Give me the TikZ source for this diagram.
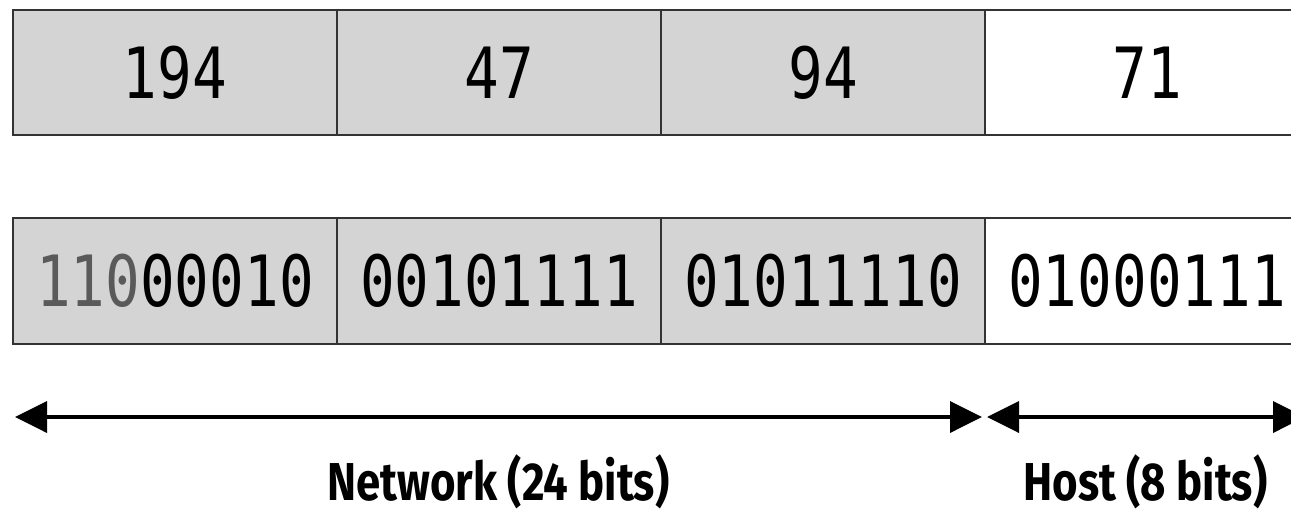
\documentclass[tikz,border=0pt]{standalone}
\usepackage{fontspec}
\usetikzlibrary{arrows.meta}
\newfontfamily\digitfont[FakeStretch=0.815]{DejaVu Sans Mono}
\newfontfamily\labelfont[FakeStretch=0.82]{Fira Sans}
\definecolor{netfill}{HTML}{D4D4D4}
\definecolor{cellline}{HTML}{333333}
\definecolor{dimdigit}{HTML}{5A5A5A}
\tikzset{
  cell/.style={draw=cellline, line width=1.7pt, minimum width=243pt, minimum height=94pt,
    inner sep=0pt, outer sep=0pt, font=\digitfont\fontsize{53}{60}\selectfont},
  netcell/.style={cell, fill=netfill},
  hostcell/.style={cell, fill=white},
  span/.style={line width=3.6pt, {Triangle[length=24pt,width=23pt]}-{Triangle[length=24pt,width=23pt]}},
  spanlabel/.style={anchor=base, inner sep=0pt, font=\labelfont\bfseries\fontsize{40}{48}\selectfont}
}
\begin{document}
\begin{tikzpicture}[x=0.75pt, y=-0.75pt]
  \useasboundingbox (0,0) rectangle (1291,515);
  % dotted-decimal row
  \node[netcell]  (d1) at (175,72.5)  {194};
  \node[netcell]  (d2) at (499,72.5)  {47};
  \node[netcell]  (d3) at (823,72.5)  {94};
  \node[hostcell] (d4) at (1147,72.5) {71};
  % binary row
  \node[netcell]  (b1) at (175,281) {\textcolor{dimdigit}{110}00010};
  \node[netcell]  (b2) at (499,281) {00101111};
  \node[netcell]  (b3) at (823,281) {01011110};
  \node[hostcell] (b4) at (1147,281) {01000111};
  % extents of the network and host parts
  \coordinate (nl) at (15,417);
  \coordinate (nr) at (982,417);
  \coordinate (hl) at (987,417);
  \coordinate (hr) at (1305,417);
  \draw[span] (nl) -- (nr);
  \draw[span] (hl) -- (hr);
  \node[spanlabel] (net)  at (498.5,500) {Network (24 bits)};
  \node[spanlabel] (host) at (1145.5,500) {Host (8 bits)};
\end{tikzpicture}
\end{document}
